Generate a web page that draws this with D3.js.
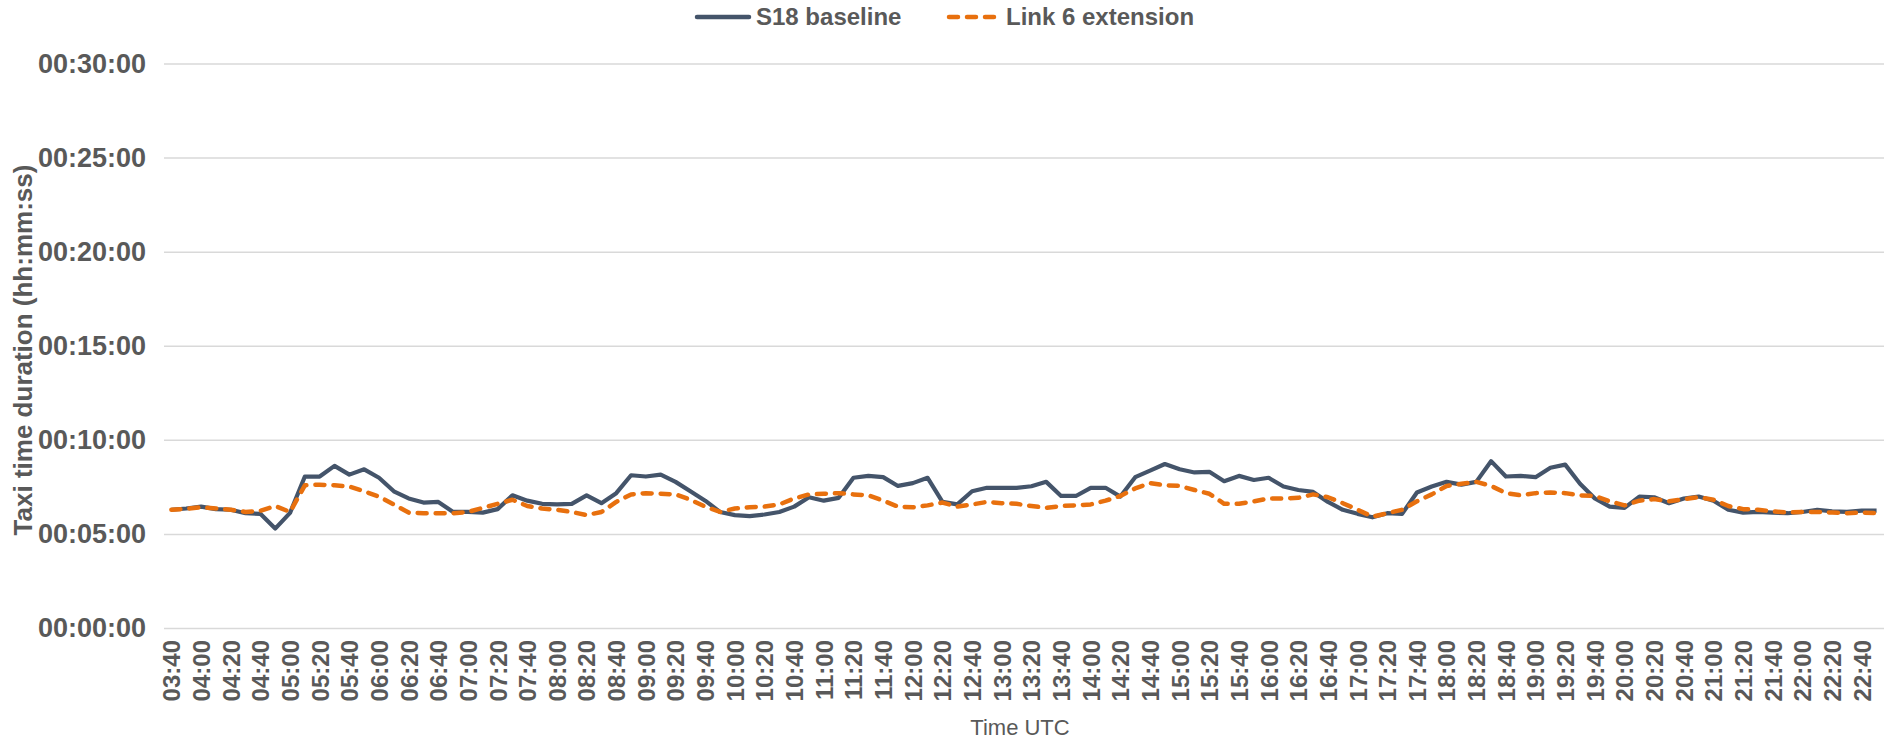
<!DOCTYPE html>
<html>
<head>
<meta charset="utf-8">
<script src="https://cdn.jsdelivr.net/npm/d3@7.9.0/dist/d3.min.js"></script>
<style>
  html, body { margin: 0; padding: 0; background: #fff; }
  svg { display: block; font-family: "Liberation Sans", Arial, sans-serif; }
</style>
</head>
<body>
<svg id="chart" width="1887" height="741"></svg>
<script>
// categories: one every 10 minutes (UTC)
const times = [
  "03:40","03:50",
  "04:00","04:10","04:20","04:30","04:40","04:50",
  "05:00","05:10","05:20","05:30","05:40","05:50",
  "06:00","06:10","06:20","06:30","06:40","06:50",
  "07:00","07:10","07:20","07:30","07:40","07:50",
  "08:00","08:10","08:20","08:30","08:40","08:50",
  "09:00","09:10","09:20","09:30","09:40","09:50",
  "10:00","10:10","10:20","10:30","10:40","10:50",
  "11:00","11:10","11:20","11:30","11:40","11:50",
  "12:00","12:10","12:20","12:30","12:40","12:50",
  "13:00","13:10","13:20","13:30","13:40","13:50",
  "14:00","14:10","14:20","14:30","14:40","14:50",
  "15:00","15:10","15:20","15:30","15:40","15:50",
  "16:00","16:10","16:20","16:30","16:40","16:50",
  "17:00","17:10","17:20","17:30","17:40","17:50",
  "18:00","18:10","18:20","18:30","18:40","18:50",
  "19:00","19:10","19:20","19:30","19:40","19:50",
  "20:00","20:10","20:20","20:30","20:40","20:50",
  "21:00","21:10","21:20","21:30","21:40","21:50",
  "22:00","22:10","22:20","22:30","22:40","22:50"
];

// taxi time in seconds
const baseline = [
  377,381,387,379,377,366,364,317,367,483,
  483,517,489,506,479,436,413,400,402,370,
  370,368,379,423,406,396,394,396,423,398,
  430,487,483,489,466,436,406,370,360,357,
  362,370,387,417,406,415,479,485,481,453,
  462,479,402,394,436,447,447,447,452,466,
  421,421,447,447,419,481,502,523,506,496,
  498,468,485,472,479,451,440,434,402,377,
  364,353,366,364,432,451,466,457,466,532,
  483,485,481,511,521,460,413,387,383,419,
  417,398,413,419,406,377,368,370,368,366,
  370,377,372,370,374,374
];

const extension = [
  377,380,385,381,377,370,374,389,370,455,
  457,455,451,436,419,394,368,366,366,366,
  370,383,396,409,389,381,377,370,360,370,
  402,426,430,428,426,409,387,370,381,385,
  387,394,413,426,428,430,426,423,406,387,
  385,391,400,387,394,402,398,396,389,383,
  389,391,394,406,421,445,462,455,453,440,
  428,396,396,404,413,413,415,426,417,398,
  377,355,366,377,404,426,453,460,466,453,
  430,423,430,432,430,423,421,404,391,406,
  411,404,411,417,409,389,379,377,372,368,
  370,370,368,366,368,366
];

const yTicks = [0, 300, 600, 900, 1200, 1500, 1800];
const seriesNames = ["S18 baseline", "Link 6 extension"];

const svg = d3.select('#chart');
const textColor = '#595959';

const x = d3.scalePoint().domain(times).range([164, 1884]).padding(0.5);
const y = d3.scaleLinear().domain([0, 1800]).range([628, 63.5]);

// hh:mm:ss
function fmt(s) {
  const h = Math.floor(s / 3600), m = Math.floor((s % 3600) / 60), sec = s % 60;
  return [h, m, sec].map(v => String(v).padStart(2, '0')).join(':');
}

// gridlines + y labels
const yAxis = d3.axisLeft(y).tickValues(yTicks).tickFormat(fmt).tickSize(-1720).tickPadding(18);
const gy = svg.append('g').attr('transform', 'translate(164,0)').call(yAxis);
gy.select('.domain').remove();
gy.selectAll('.tick line').attr('stroke', '#d9d9d9').attr('stroke-width', 1.5);
gy.selectAll('.tick text')
  .attr('fill', textColor).attr('font-size', 27).attr('font-weight', 'bold');

// x labels, every second category
const xAxis = d3.axisBottom(x).tickValues(times.filter((d, i) => i % 2 === 0)).tickSize(0).tickPadding(0);
const gx = svg.append('g').attr('transform', 'translate(0,640)').call(xAxis);
gx.select('.domain').remove();
gx.selectAll('.tick text')
  .attr('fill', textColor).attr('font-size', 24).attr('font-weight', 'bold')
  .attr('text-anchor', 'end').attr('dy', '0.35em')
  .attr('transform', 'rotate(-90)')
  .attr('x', 0).attr('y', 0);

// lines
const line = d3.line().x((d, i) => x(times[i])).y(d => y(d));

svg.append('path').datum(baseline)
  .attr('d', line).attr('fill', 'none')
  .attr('stroke', '#44546a').attr('stroke-width', 4.2)
  .attr('stroke-linejoin', 'round');

svg.append('path').datum(extension)
  .attr('d', line).attr('fill', 'none')
  .attr('stroke', '#e8700e').attr('stroke-width', 4.5)
  .attr('stroke-linecap', 'round').attr('stroke-dasharray', '9,9')
  .attr('stroke-linejoin', 'round');

// axis titles
svg.append('text')
  .attr('transform', 'translate(23,350) rotate(-90)')
  .attr('text-anchor', 'middle').attr('dy', '0.35em')
  .attr('fill', textColor).attr('font-size', 26).attr('font-weight', 'bold')
  .text('Taxi time duration (hh:mm:ss)');

svg.append('text')
  .attr('x', 1020).attr('y', 727)
  .attr('text-anchor', 'middle').attr('dy', '0.35em')
  .attr('fill', textColor).attr('font-size', 22)
  .text('Time UTC');

// legend
const legend = svg.append('g').attr('transform', 'translate(0,17)');
legend.append('line').attr('x1', 697).attr('x2', 749).attr('y1', 0).attr('y2', 0)
  .attr('stroke', '#44546a').attr('stroke-width', 4.5).attr('stroke-linecap', 'round');
legend.append('text').attr('x', 756).attr('dy', '0.35em')
  .attr('fill', textColor).attr('font-size', 24).attr('font-weight', 'bold')
  .text(seriesNames[0]);
legend.append('line').attr('x1', 949).attr('x2', 999).attr('y1', 0).attr('y2', 0)
  .attr('stroke', '#e8700e').attr('stroke-width', 4.5).attr('stroke-linecap', 'round')
  .attr('stroke-dasharray', '9,9');
legend.append('text').attr('x', 1006).attr('dy', '0.35em')
  .attr('fill', textColor).attr('font-size', 24).attr('font-weight', 'bold')
  .text(seriesNames[1]);
</script>
</body>
</html>
